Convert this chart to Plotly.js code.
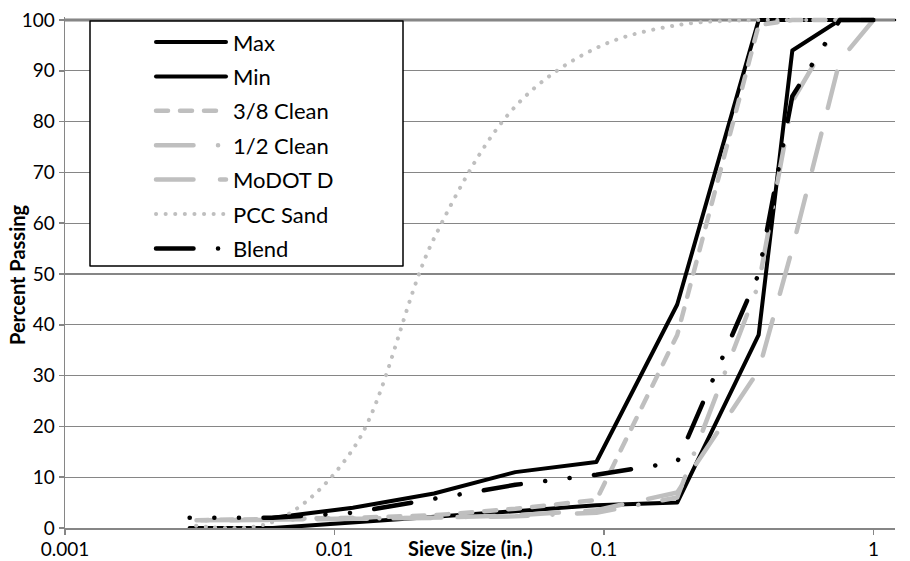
<!DOCTYPE html>
<html><head><meta charset="utf-8">
<script src="https://cdn.plot.ly/plotly-3.0.1.min.js"></script>
<style>
html,body{margin:0;padding:0;background:#fff;}
#chart{width:910px;height:561px;}
.js-line, .shapelayer path{stroke-linecap:round;stroke-linejoin:round;}
</style></head><body><div id="chart"></div>
<script>
// Sieve sizes (in.)
const sieveSize = [1, 0.75, 0.5, 0.375, 0.187, 0.0937, 0.0469, 0.0234, 0.0117, 0.0059, 0.0029];
// Percent passing per series
const maxPass  = [100, 100, 100, 100, 44, 13, 11, 6.8, 4, 2, null];
const minPass  = [100, 100, 94, 38, 5, 4.5, 3.3, 2.2, 1, 0, 0];
const clean38  = [100, 100, 100, 99, 38, 5.5, 3.8, 2.5, 2, 1.8, 1.5];
const clean12  = [100, 100, 84, 48, 6, 3, 2.3, 2, 1.8, 1.6, 1.5];
const modotD   = [100, 92, 55, 31, 7, 3.5, 2.5, 2, 1.8, 1.6, 1.5];
const pccSand  = [100, 100, 100, 100, 99, 94.5, 83, 57, 15.5, 1.2, 0.6];
const blend    = [100, 100, 85, 50, 13, 10.5, 8.5, 5.8, 3, 2, 2];

const seriesNames = ['Max', 'Min', '3/8 Clean', '1/2 Clean', 'MoDOT D', 'PCC Sand', 'Blend'];
const seriesData = [maxPass, minPass, clean38, clean12, modotD, pccSand, blend];

const xTickVals = [0.001, 0.01, 0.1, 1];
const xTickText = ['0.001', '0.01', '0.1', '1'];
const yTickVals = [0, 10, 20, 30, 40, 50, 60, 70, 80, 90, 100];

// styles
const black = '#000000', gray = '#BFBFBF';
const colors = [black, black, gray, gray, gray, gray, black];
const dashes = ['solid', 'solid', '12px,12px', '37.5px,24.5px,0.1px,24.5px', '37.5px,26.5px', '0.1px,9.5px',
                '37.5px,24.5px,0.1px,24.5px,0.1px,24.5px'];
const widths = [4, 4, 4.5, 4.5, 4.5, 4, 4.5];
const shapesKind = ['linear', 'linear', 'linear', 'linear', 'linear', 'spline', 'linear'];

const FONT = 'Lato, "Open Sans", sans-serif';

const traces = seriesNames.map((n, i) => ({
  type: 'scatter', mode: 'lines', name: n,
  x: sieveSize, y: seriesData[i],
  line: {color: colors[i], width: widths[i], dash: dashes[i], shape: shapesKind[i], smoothing: 1},
  connectgaps: false, showlegend: false, hoverinfo: 'x+y+name'
}));

// layout geometry helpers (pixel -> paper)
const W = 910, H = 561, ML = 65, MR = 15, MT = 17, MB = 33;
const PW = W - ML - MR, PH = H - MT - MB;
const px2x = p => (p - ML) / PW;
const py2y = p => (H - MB - p) / PH;

const shapes = [
  {type: 'line', xref: 'paper', yref: 'y', x0: 0, x1: 1, y0: 100, y1: 100,
   line: {color: '#000', width: 2.5}, layer: 'between'},
  {type: 'rect', xref: 'paper', yref: 'paper', x0: px2x(90), x1: px2x(403), y0: py2y(266), y1: py2y(21),
   fillcolor: '#fff', line: {color: '#000', width: 1.5}, layer: 'above'}
];
const annotations = [
  {xref: 'paper', yref: 'paper', x: px2x(470), y: py2y(548), xanchor: 'center', yanchor: 'middle',
   text: '<b>Sieve Size (in.)</b>', showarrow: false, font: {family: FONT, size: 20, color: '#000'}},
  {xref: 'paper', yref: 'paper', x: px2x(17), y: py2y(275), xanchor: 'center', yanchor: 'middle',
   text: '<b>Percent Passing</b>', textangle: -90, showarrow: false, font: {family: FONT, size: 20, color: '#000'}}
];
seriesNames.forEach((n, i) => {
  const cy = 42 + i * 34.4;
  shapes.push({type: 'line', xref: 'paper', yref: 'paper', x0: px2x(156), x1: px2x(226), y0: py2y(cy), y1: py2y(cy),
    line: {color: colors[i], width: widths[i], dash: dashes[i]}, layer: 'above'});
  annotations.push({xref: 'paper', yref: 'paper', x: px2x(231), y: py2y(cy), xanchor: 'left', yanchor: 'middle',
    text: n, showarrow: false, font: {family: FONT, size: 22, color: '#000'}});
});

const layout = {
  width: W, height: H,
  margin: {l: ML, r: MR, t: MT, b: MB, pad: 0},
  paper_bgcolor: '#fff', plot_bgcolor: '#fff',
  font: {family: FONT, size: 19, color: '#000'},
  showlegend: false,
  xaxis: {
    type: 'log', range: [-3, 0.08],
    tickvals: xTickVals, ticktext: xTickText,
    ticks: 'outside', ticklen: 5, tickcolor: '#868686', tickwidth: 1.5,
    showgrid: false, zeroline: false,
    showline: true, linecolor: '#868686', linewidth: 1.5,
    ticklabelstandoff: -1,
    tickfont: {family: FONT, size: 19, color: '#000'}
  },
  yaxis: {
    range: [0, 100.6], tickvals: yTickVals,
    ticks: 'outside', ticklen: 5, tickcolor: '#868686', tickwidth: 1.5,
    showgrid: true, gridcolor: '#868686', gridwidth: 1.3,
    zeroline: false, showline: true, linecolor: '#868686', linewidth: 1.5,
    ticklabelstandoff: 0,
    tickfont: {family: FONT, size: 19, color: '#000'}
  },
  shapes: shapes,
  annotations: annotations
};

Plotly.newPlot('chart', traces, layout, {displayModeBar: false, staticPlot: true});
</script></body></html>
